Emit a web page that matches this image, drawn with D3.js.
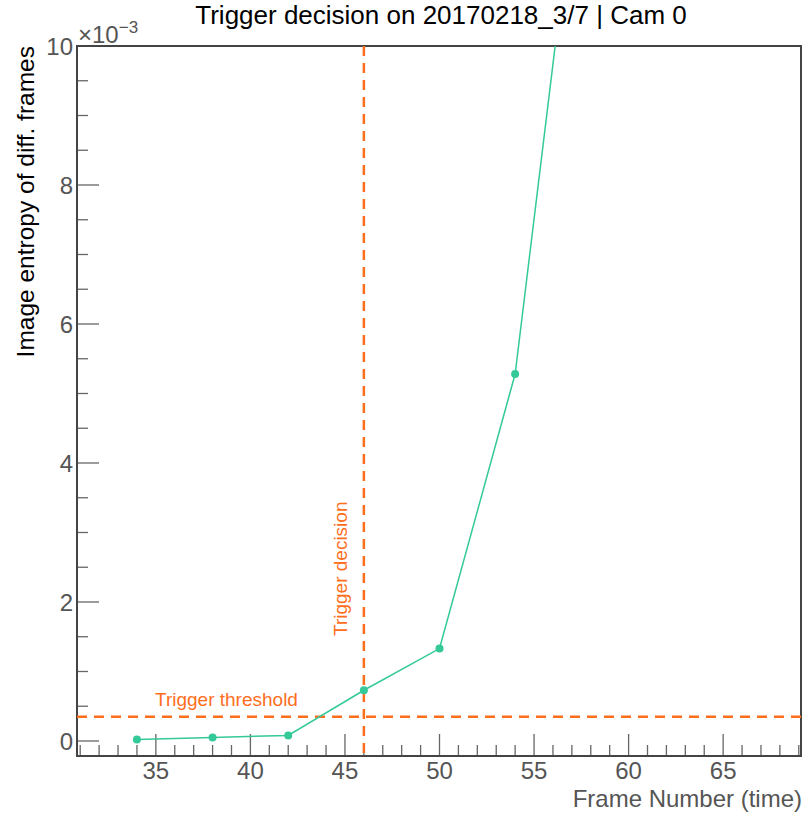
<!DOCTYPE html>
<html>
<head>
<meta charset="utf-8">
<script src="https://cdn.jsdelivr.net/npm/d3@7"></script>
<style>
  body { margin: 0; background: #fff; }
  text { font-family: "Liberation Sans", Arial, sans-serif; }
</style>
</head>
<body>
<div id="chart"></div>
<script>
// frame numbers and entropy values (units of 1e-3)
var frames = [34, 38, 42, 46, 50, 54, 58];
var entropy = [0.02, 0.05, 0.08, 0.73, 1.33, 5.28, 14.2];
var xTicks = [35, 40, 45, 50, 55, 60, 65];
var yTicks = [0, 2, 4, 6, 8, 10];
var threshold = 0.35;
var decisionFrame = 46;

var width = 804, height = 813;
var margin = { top: 46, right: 2, bottom: 57, left: 77 };
var orange = "#ff6e1c", green = "#33c999", axisCol = "#555";

var svg = d3.select("#chart").append("svg")
    .attr("width", width).attr("height", height);

var x = d3.scaleLinear().domain([30.83, 69.17])
    .range([margin.left, width - margin.right]);
var y = d3.scaleLinear().domain([-0.216, 10])
    .range([height - margin.bottom, margin.top]);

svg.append("defs").append("clipPath").attr("id", "plot")
    .append("rect")
    .attr("x", margin.left).attr("y", margin.top)
    .attr("width", width - margin.left - margin.right)
    .attr("height", height - margin.top - margin.bottom);

// title
svg.append("text").attr("x", 441).attr("y", 24)
    .attr("text-anchor", "middle").attr("font-size", 26)
    .text("Trigger decision on 20170218_3/7 | Cam 0");

// x ticks: major every 5, minor every 1, pointing up
var xMinor = d3.range(31, 70);
svg.append("g").selectAll("line").data(xMinor).enter().append("line")
    .attr("x1", function (d) { return x(d); }).attr("x2", function (d) { return x(d); })
    .attr("y1", y.range()[0])
    .attr("y2", function (d) { return y.range()[0] - (d % 5 === 0 ? 22 : 11); })
    .attr("stroke", "#666").attr("stroke-width", 1.3);

svg.append("g").selectAll("text").data(xTicks).enter().append("text")
    .attr("x", function (d) { return x(d); })
    .attr("y", 779)
    .attr("text-anchor", "middle").attr("font-size", 24).attr("fill", axisCol)
    .text(function (d) { return d; });

// y ticks: major every 2, minor every 0.5, pointing right
var yMinor = d3.range(0, 10.01, 0.5);
svg.append("g").selectAll("line").data(yMinor).enter().append("line")
    .attr("x1", x.range()[0])
    .attr("x2", function (d) { return x.range()[0] + (Math.abs(d % 2) < 1e-6 ? 22 : 11); })
    .attr("y1", function (d) { return y(d); }).attr("y2", function (d) { return y(d); })
    .attr("stroke", "#666").attr("stroke-width", 1.3);

svg.append("g").selectAll("text").data(yTicks).enter().append("text")
    .attr("x", x.range()[0] - 4)
    .attr("y", function (d) { return y(d) + 9; })
    .attr("text-anchor", "end").attr("font-size", 24).attr("fill", axisCol)
    .text(function (d) { return d; });

// exponent label
var expo = svg.append("text").attr("x", x.range()[0] + 1).attr("y", margin.top - 3)
    .attr("font-size", 24).attr("fill", axisCol);
expo.append("tspan").text("\u00d710");
expo.append("tspan").attr("dy", -10).attr("font-size", 17).text("\u22123");

// frame
svg.append("rect")
    .attr("x", margin.left).attr("y", margin.top)
    .attr("width", width - margin.left - margin.right - 1)
    .attr("height", height - margin.top - margin.bottom)
    .attr("stroke", "#444").attr("stroke-width", 2).attr("fill", "none");

// axis titles
svg.append("text").attr("x", width - 2).attr("y", 807)
    .attr("text-anchor", "end").attr("font-size", 24).attr("fill", axisCol)
    .text("Frame Number (time)");
svg.append("text")
    .attr("transform", "translate(34," + margin.top + ") rotate(-90)")
    .attr("text-anchor", "end").attr("font-size", 24.5)
    .text("Image entropy of diff. frames");

// data
var g = svg.append("g").attr("clip-path", "url(#plot)");
var pts = frames.map(function (f, i) { return [f, entropy[i]]; });

// threshold + decision lines
g.append("line")
    .attr("x1", x.range()[0]).attr("x2", x.range()[1])
    .attr("y1", y(threshold)).attr("y2", y(threshold))
    .attr("stroke", orange).attr("stroke-width", 2.5).attr("stroke-dasharray", "10,7");
g.append("line")
    .attr("x1", x(decisionFrame)).attr("x2", x(decisionFrame))
    .attr("y1", y.range()[1]).attr("y2", y.range()[0])
    .attr("stroke", orange).attr("stroke-width", 2.5).attr("stroke-dasharray", "10,7");

g.append("path").datum(pts)
    .attr("d", d3.line().x(function (d) { return x(d[0]); }).y(function (d) { return y(d[1]); }))
    .attr("fill", "none").attr("stroke", green).attr("stroke-width", 1.5);
g.selectAll("circle").data(pts).enter().append("circle")
    .attr("cx", function (d) { return x(d[0]); })
    .attr("cy", function (d) { return y(d[1]); })
    .attr("r", 4).attr("fill", green);

svg.append("text").attr("x", 155).attr("y", 706)
    .attr("font-size", 19).attr("fill", orange)
    .text("Trigger threshold");
svg.append("text")
    .attr("transform", "translate(347,636) rotate(-90)")
    .attr("font-size", 19).attr("fill", orange)
    .text("Trigger decision");
</script>
</body>
</html>
